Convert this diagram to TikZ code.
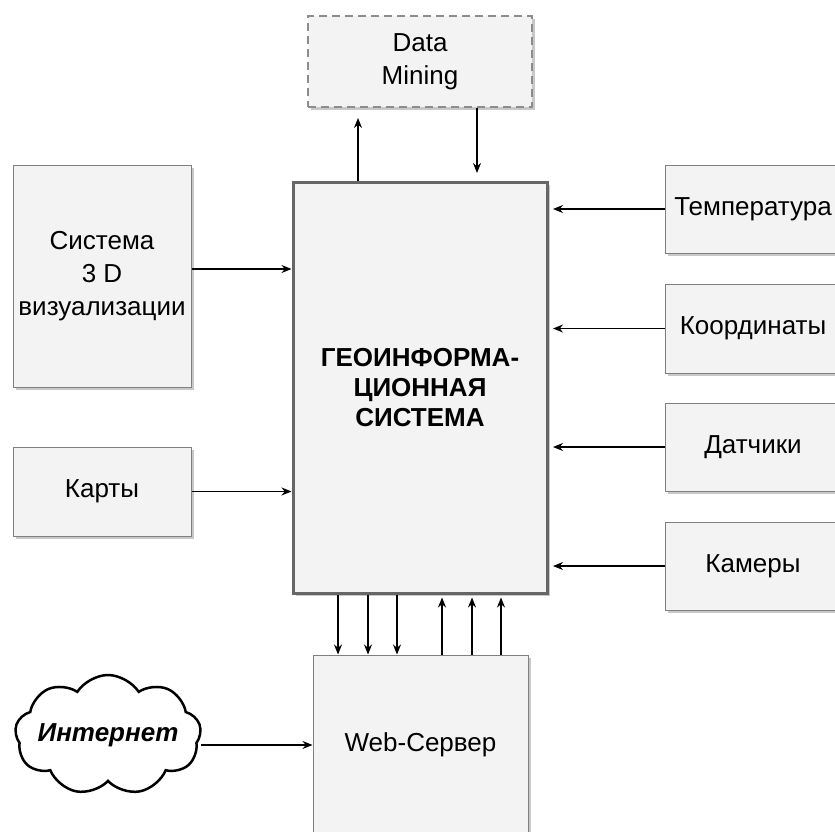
\documentclass[tikz,border=0pt]{standalone}
\usepackage{fontspec}
\setmainfont{Liberation Sans}
\usetikzlibrary{shapes.symbols,shadows,arrows.meta,calc}
\definecolor{boxfill}{HTML}{F3F3F3}
\definecolor{boxline}{HTML}{808080}
\definecolor{mainline}{HTML}{666666}
\definecolor{dmline}{HTML}{8C8C8C}
\definecolor{shadowc}{HTML}{C8C8C8}
\begin{document}
\begin{tikzpicture}[x=1pt,y=-1pt,
  blk/.style={rectangle, draw=boxline, fill=boxfill, line width=1pt, inner sep=0pt,
    align=center, font=\fontsize{26}{33}\selectfont,
    drop shadow={shadow xshift=3pt, shadow yshift=-3pt, fill=shadowc, opacity=1}},
  dmbox/.style={blk, draw=dmline, line width=2pt, dash pattern=on 8pt off 5pt},
  mainbox/.style={blk, draw=mainline, line width=3pt,
    font=\bfseries\fontsize{26}{30}\selectfont},
  arr/.style={-{Stealth[length=10pt,width=8pt]}, line width=1.2pt, black},
  cloudshape/.style={cloud, cloud puffs=9, cloud puff arc=115, aspect=1.5,
    draw=black, line width=2.5pt, fill=white, inner sep=0pt,
    minimum width=186pt, minimum height=120pt},
  cloudtext/.style={font=\bfseries\itshape\fontsize{26}{30}\selectfont, inner sep=0pt}
]
\useasboundingbox (0,0) rectangle (835,832);
\fill[white] (0,0) rectangle (835,832);
\clip (0,0) rectangle (835,832);

% named x / y positions for connectors
\coordinate (xu) at (358,0);
\coordinate (xd) at (477,0);
\coordinate (b1) at (338,0);
\coordinate (b2) at (368,0);
\coordinate (b3) at (397,0);
\coordinate (b4) at (442,0);
\coordinate (b5) at (472,0);
\coordinate (b6) at (501,0);
\coordinate (ysys) at (0,269);

% nodes
\node[dmbox, minimum width=224pt, minimum height=91pt] (dm) at (420,61.5) {Data\\Mining};
\node[mainbox, minimum width=254pt, minimum height=411pt] (main) at (420,387.5)
  {ГЕОИНФОРМА-\\ЦИОННАЯ\\СИСТЕМА};
\node[blk, minimum width=178pt, minimum height=222pt] (sys) at (102,276)
  {Система\\3 D\\визуализации};
\node[blk, minimum width=178pt, minimum height=89pt] (karty) at (102,491.5) {Карты};
\node[blk, minimum width=176pt, minimum height=88pt] (temp) at (753,209) {Температура};
\node[blk, minimum width=176pt, minimum height=89pt] (coord) at (753,328.5) {Координаты};
\node[blk, minimum width=176pt, minimum height=88pt] (dat) at (753,447) {Датчики};
\node[blk, minimum width=176pt, minimum height=88pt] (kam) at (753,566) {Камеры};
\node[blk, minimum width=215pt, minimum height=180pt] (web) at (420.5,745) {Web-Сервер};
\node[cloudshape] (cloud) at (108,735) {};
\node[cloudtext] (inet) at (cloud.center) {Интернет};

% connectors
\draw[arr, shorten >=10pt] (main.north -| xu) -- (dm.south -| xu);
\draw[arr, shorten >=7.5pt] (dm.south -| xd) -- (main.north -| xd);
\draw[arr] (sys.east |- ysys) -- (main.west |- ysys);
\draw[arr] (karty.east) -- (karty.east -| main.west);
\draw[arr, shorten >=4.5pt] (temp.west) -- (temp.west -| main.east);
\draw[arr, shorten >=4.5pt] (coord.west) -- (coord.west -| main.east);
\draw[arr, shorten >=4.5pt] (dat.west) -- (dat.west -| main.east);
\draw[arr, shorten >=4.5pt] (kam.west) -- (kam.west -| main.east);
\foreach \c in {b1,b2,b3} \draw[arr] (main.south -| \c) -- (web.north -| \c);
\foreach \c in {b4,b5,b6} \draw[arr, shorten >=3pt] (web.north -| \c) -- (main.south -| \c);
\draw[arr] (cloud.east |- web.west) -- (web.west);
\end{tikzpicture}
\end{document}
